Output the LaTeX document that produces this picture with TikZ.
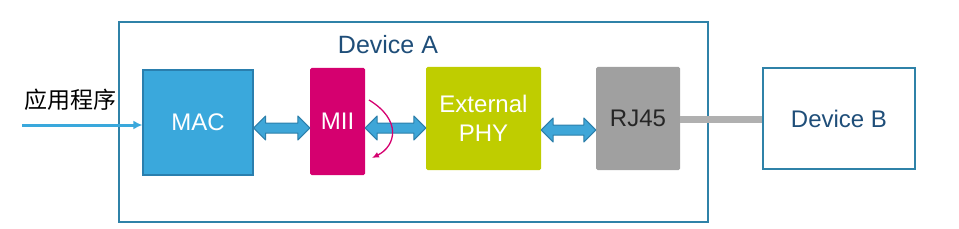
\documentclass[tikz,border=0pt]{standalone}
\usepackage{fontspec}
\setmainfont{Liberation Sans}
\newfontfamily\cjk{Noto Sans CJK SC}
\usetikzlibrary{calc,arrows.meta}
\definecolor{frameblue}{HTML}{2F82A8}
\definecolor{darktxt}{HTML}{1F4E79}
\definecolor{macfill}{HTML}{3AA8DC}
\definecolor{macline}{HTML}{2A7FAE}
\definecolor{miifill}{HTML}{D5006F}
\definecolor{phyfill}{HTML}{BFCD00}
\definecolor{rjfill}{HTML}{A0A0A0}
\definecolor{cable}{HTML}{B0B0B0}
\definecolor{fatfill}{HTML}{3EA6D8}
\definecolor{fatline}{HTML}{2C7FAA}
\tikzset{
  blockbox/.style={draw=none, inner sep=0pt, font=\fontsize{24}{30}\selectfont, text=white, align=center, rounded corners=1.5pt},
  framebox/.style={draw=frameblue, line width=1.6pt, inner sep=0pt},
  fat/.style={fill=fatfill, draw=fatline, line width=1pt, line join=round},
}
\newcommand{\fatconn}[3]{%
  \draw[fat] let \p1=(#1.east), \p2=(#2.west) in
    (\x1,#3pt) -- (\x1+12pt,#3pt+12pt) -- (\x1+12pt,#3pt+5pt) -- (\x2-12pt,#3pt+5pt)
    -- (\x2-12pt,#3pt+12pt) -- (\x2,#3pt) -- (\x2-12pt,#3pt-12pt) -- (\x2-12pt,#3pt-5pt)
    -- (\x1+12pt,#3pt-5pt) -- (\x1+12pt,#3pt-12pt) -- cycle;}
\begin{document}
\begin{tikzpicture}[x=1pt,y=1pt]
\useasboundingbox (0,0) rectangle (959,228);
% Device A frame
\node[framebox, minimum width=589pt, minimum height=200pt] (deva) at (413.5,106) {};
\node[text=darktxt, font=\fontsize{25}{30}\selectfont] (devalabel) at (388,183) {Device A};
% blocks
\node[blockbox, fill=macfill, draw=macline, line width=1.2pt, rounded corners=0pt, minimum width=110pt, minimum height=105pt] (mac) at (198,105.5) {MAC};
\node[blockbox, fill=miifill, minimum width=55pt, minimum height=107pt] (mii) at (337.5,106.5) {MII};
\node[blockbox, fill=phyfill, minimum width=115pt, minimum height=103pt] (phy) at (483.5,109.5) {External\\[-1pt]PHY};
\node[blockbox, fill=rjfill, text=black!85, minimum width=84pt, minimum height=103pt] (rj) at (638,109.5) {RJ45};
% Device B
\node[framebox, minimum width=152pt, minimum height=101pt, text=darktxt, font=\fontsize{24}{29}\selectfont] (devb) at (839,109.5) {Device B};
% cable
\draw[cable, line width=7pt] (rj.east |- 0,109) -- (devb.west |- 0,109);
% input
\node[font=\cjk\fontsize{23}{27}\selectfont] (app) at (70,128) {应用程序};
\coordinate (in) at (22,103);
\draw[macfill, line width=3pt, -{Latex[length=9pt,width=9pt]}] (in) -- (mac.west |- in);
% fat double arrows
\fatconn{mac}{mii}{100}
\fatconn{mii}{phy}{100}
\fatconn{phy}{rj}{98}
% curved arrow
\coordinate (cs) at (369,128);
\coordinate (ce) at (372,70);
\draw[miifill, line width=1.3pt, -{Latex[length=7pt,width=6pt]}] (cs) .. controls (402,108) and (396,82) .. (ce);
\end{tikzpicture}
\end{document}
